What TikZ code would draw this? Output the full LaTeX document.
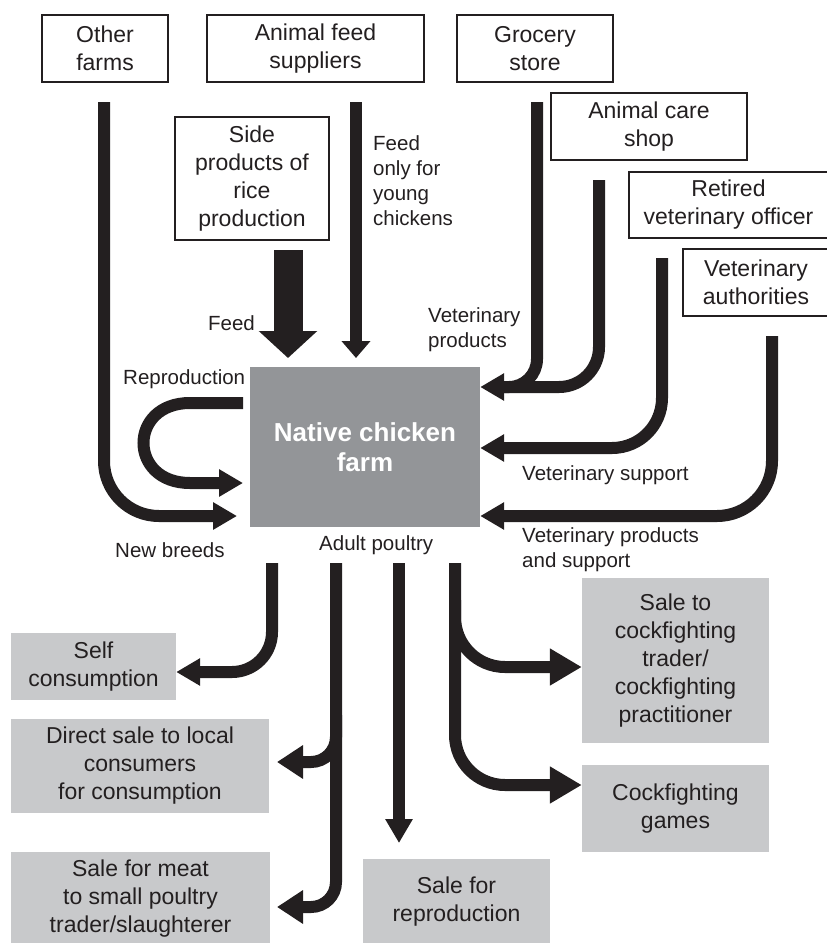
\documentclass[tikz,border=0pt]{standalone}
\usepackage{fontspec}
\setmainfont{Liberation Sans}
\usetikzlibrary{arrows.meta}
\definecolor{ink}{HTML}{231F20}
\definecolor{farmgray}{HTML}{939598}
\definecolor{outgray}{HTML}{C8C9CB}
\begin{document}
\begin{tikzpicture}[x=1pt,y=-1pt,
  src/.style={draw=ink, line width=1.3pt, fill=white, align=center, inner sep=0pt, text=ink, font=\fontsize{23}{28}\selectfont},
  outbox/.style={fill=outgray, align=center, inner sep=0pt, text=ink, font=\fontsize{23}{28}\selectfont},
  lbl/.style={align=left, inner sep=0pt, text=ink, font=\fontsize{20.5}{25}\selectfont},
  flow/.style={draw=ink, line width=12pt},
  sarrow/.style={-{Triangle[length=24pt,width=26pt]}},
  marrow/.style={-{Triangle[length=26pt,width=32pt]}},
  larrow/.style={-{Triangle[length=32pt,width=35pt]}},
]
\useasboundingbox (0,0) rectangle (827,943);

% source boxes
\node[src, minimum width=126pt, minimum height=67pt] (other) at (105,48.5) {Other\\farms};
\node[src, minimum width=217pt, minimum height=67pt] (feedsup) at (315.5,48.5) {Animal feed\\suppliers};
\node[src, minimum width=156pt, minimum height=67pt] (grocery) at (535,48.5) {Grocery\\store};
\node[src, minimum width=196pt, minimum height=67pt] (care) at (649,126.5) {Animal care\\shop};
\node[src, minimum width=199pt, minimum height=66pt] (retired) at (728.5,205) {Retired\\veterinary officer};
\node[src, minimum width=146pt, minimum height=67pt] (vetauth) at (756,282.5) {Veterinary\\authorities};
\node[src, minimum width=154pt, minimum height=123pt] (side) at (252,178.5) {Side\\products of\\rice\\production};

% farm
\node[fill=farmgray, minimum width=230pt, minimum height=160pt, inner sep=0pt, align=center, text=white, font=\fontsize{26}{30}\selectfont\bfseries] (farm) at (365,447) {Native chicken\\farm};

% outlets
\node[outbox, minimum width=165pt, minimum height=67pt] (self) at (93.5,666.5) {Self\\consumption};
\node[outbox, minimum width=258pt, minimum height=94pt] (direct) at (140,766) {Direct sale to local\\consumers\\for consumption};
\node[outbox, minimum width=259pt, minimum height=93pt] (meat) at (140.5,898.5) {Sale for meat\\to small poultry\\trader/slaughterer};
\node[outbox, minimum width=187pt, minimum height=86pt] (repro) at (456.5,902) {Sale for\\reproduction};
\node[outbox, minimum width=187pt, minimum height=165pt] (cocktrade) at (675.5,660.5) {Sale to\\cockfighting\\trader/\\cockfighting\\practitioner};
\node[outbox, minimum width=187pt, minimum height=87pt] (games) at (675.5,808.5) {Cockfighting\\games};

% labels
\node[lbl, anchor=east] (lfeed) at (255,323) {Feed};
\node[lbl, anchor=north west] (lyoung) at (373,135) {Feed\\only for\\young\\chickens};
\node[lbl, anchor=north west] (lvprod) at (428,307) {Veterinary\\products};
\node[lbl, anchor=north west] (lrepro) at (123,369) {Reproduction};
\node[lbl, anchor=north west] (lbreeds) at (115,542) {New breeds};
\node[lbl, anchor=north west] (ladult) at (319,535) {Adult poultry};
\node[lbl, anchor=north west] (lvsup) at (522,465) {Veterinary support};
\node[lbl, anchor=north west] (lvps) at (522,527) {Veterinary products\\and support};

% coordinates
\coordinate (sOther) at (104,102);
\coordinate (eOther) at (237,516);
\coordinate (sRice) at (288,250);
\coordinate (eRice) at (288,358);
\coordinate (sFeed) at (356,102);
\coordinate (eFeed) at (356,358);
\coordinate (sRepro) at (243,403);
\coordinate (eRepro) at (243,483);
\coordinate (sGroc) at (537,102);
\coordinate (sCare) at (599,180);
\coordinate (sRet) at (662,258);
\coordinate (sAuth) at (772,336);
\coordinate (oSelf) at (272,563);
\coordinate (oMeat) at (336,563);
\coordinate (bDirect) at (336,715);
\coordinate (oRepro) at (399,563);
\coordinate (eRepro2) at (399,843);
\coordinate (oCock) at (455,563);
\coordinate (bCock) at (455,600);

% inputs
\draw[flow, sarrow, rounded corners=55pt] (sOther) |- (eOther);
\draw[draw=ink, line width=29pt, -{Triangle[length=27pt,width=57pt]}] (sRice) -- (eRice);
\draw[flow, -{Triangle[length=17pt,width=28pt]}] (sFeed) -- (eFeed);
\draw[flow, sarrow] (sRepro) -- (190,403) .. controls (128,403) and (128,483) .. (190,483) -- (eRepro);
\draw[flow, rounded corners=28pt] (sGroc) -- (537,387) -- (500,387);
\draw[flow, sarrow, rounded corners=40pt] (sCare) |- (farm.east |- 0,387);
\draw[flow, sarrow, rounded corners=50pt] (sRet) |- (farm.east |- 0,448);
\draw[flow, sarrow, rounded corners=55pt] (sAuth) |- (farm.east |- 0,516);

% outputs
\draw[flow, sarrow, rounded corners=40pt] (oSelf) |- (self.east |- 0,672);
\draw[flow, marrow, rounded corners=25pt] (bDirect) |- (277,762);
\draw[flow, marrow, rounded corners=25pt] (oMeat) |- (277,907);
\draw[flow, sarrow] (oRepro) -- (eRepro2);
\draw[flow, larrow, rounded corners=50pt] (bCock) |- (cocktrade.west |- 0,667);
\draw[flow, larrow, rounded corners=50pt] (oCock) |- (games.west |- 0,785);
\end{tikzpicture}
\end{document}
